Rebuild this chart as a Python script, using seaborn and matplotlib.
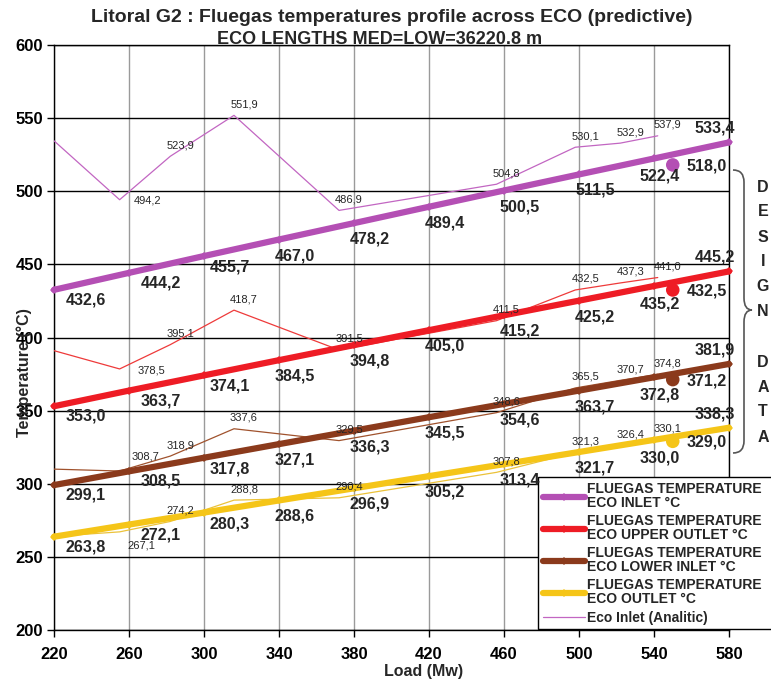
import matplotlib
matplotlib.use("Agg")
import matplotlib.pyplot as plt
import seaborn as sns
import pandas as pd
from matplotlib.path import Path
from matplotlib.patches import PathPatch

# ---- data ---------------------------------------------------------------
load = [220, 260, 300, 340, 380, 420, 460, 500, 540, 580]
eco_inlet = [432.6, 444.2, 455.7, 467.0, 478.2, 489.4, 500.5, 511.5, 522.4, 533.4]
eco_upper_outlet = [353.0, 363.7, 374.1, 384.5, 394.8, 405.0, 415.2, 425.2, 435.2, 445.2]
eco_lower_inlet = [299.1, 308.5, 317.8, 327.1, 336.3, 345.5, 354.6, 363.7, 372.8, 381.9]
eco_outlet = [263.8, 272.1, 280.3, 288.6, 296.9, 305.2, 313.4, 321.7, 330.0, 338.3]

analytic_load = [220, 255, 282, 316, 372, 456, 498, 522, 542]
analytic_inlet = [534.5, 494.2, 523.9, 551.9, 486.9, 504.8, 530.1, 532.9, 537.9]
analytic_upper_outlet = [391.0, 378.5, 395.1, 418.7, 391.5, 411.5, 432.5, 437.3, 441.0]
analytic_lower_inlet = [310.0, 308.7, 318.9, 337.6, 329.5, 348.6, 365.5, 370.7, 374.8]
analytic_outlet = [264.0, 267.1, 274.2, 288.8, 290.4, 307.8, 321.3, 326.4, 330.1]

design_load = [550, 550, 550, 550]
design_values = [518.0, 432.5, 371.2, 329.0]

series_names = [
    "FLUEGAS TEMPERATURE\nECO INLET °C",
    "FLUEGAS TEMPERATURE\nECO UPPER OUTLET °C",
    "FLUEGAS TEMPERATURE\nECO LOWER INLET °C",
    "FLUEGAS TEMPERATURE\nECO OUTLET °C",
]
analytic_name = "Eco Inlet (Analitic)"

title_line1 = "Litoral G2 : Fluegas temperatures profile across ECO (predictive)"
title_line2 = "ECO LENGTHS MED=LOW=36220.8 m"

# ---- style --------------------------------------------------------------
sns.set_style("white")
plt.rcParams["font.family"] = ["Liberation Sans", "DejaVu Sans"]

thick_colors = ["#B44FB4", "#EE1C25", "#8B3A1C", "#F5C518"]
thin_colors = ["#C266C2", "#EE3A3A", "#A0522D", "#EBC23A"]
# where the second analytic label sits relative to its point (pixels)
thin_second_offsets = [(14, -1), (18, -2), (12, 15), (8, -14)]

W, H = 771, 684
fig = plt.figure(figsize=(W / 100, H / 100), dpi=100)
ax = fig.add_axes([54 / W, 1 - 630 / H, 675 / W, 585 / H])


def fmt(v):
    return f"{v:.1f}".replace(".", ",")


thick_series = [eco_inlet, eco_upper_outlet, eco_lower_inlet, eco_outlet]
thin_series = [analytic_inlet, analytic_upper_outlet, analytic_lower_inlet, analytic_outlet]

# thin analytic profiles (only the inlet one appears in the legend)
for i, (vals, col) in enumerate(zip(thin_series, thin_colors)):
    df = pd.DataFrame({"Load": analytic_load, "Temperature": vals})
    sns.lineplot(data=df, x="Load", y="Temperature", ax=ax, color=col,
                 linewidth=0.9, sort=False,
                 label=analytic_name if i == 0 else "_nolegend_", zorder=3)
    for j, (x, y) in enumerate(zip(analytic_load, vals)):
        if j == 0:
            continue
        if j == 1:
            ax.annotate(fmt(y), (x, y), xytext=thin_second_offsets[i],
                        textcoords="offset pixels",
                        ha="left", va="center", fontsize=8, zorder=6)
        else:
            ax.annotate(fmt(y), (x, y), xytext=(10, 11), textcoords="offset pixels",
                        ha="center", va="center", fontsize=8, zorder=6)

# thick predictive profiles
for vals, col, name in zip(thick_series, thick_colors, series_names):
    df = pd.DataFrame({"Load": load, "Temperature": vals})
    sns.lineplot(data=df, x="Load", y="Temperature", ax=ax, color=col,
                 linewidth=4.5, marker="D", markersize=4.5, markeredgewidth=0,
                 label=name, zorder=4, clip_on=False)
    for j, (x, y) in enumerate(zip(load, vals)):
        if j <= 1:
            off, ha = (12, -10), "left"
        elif j == 2:
            off, ha = (6, -11), "left"
        elif j <= 7:
            off, ha = (16, -16), "center"
        elif j == 8:
            off, ha = (6, -18), "center"
        else:
            off, ha = (-14, 14), "center"
        ax.annotate(fmt(y), (x, y), xytext=off, textcoords="offset pixels",
                    ha=ha, va="center", fontsize=11.5, fontweight="bold", zorder=7)

# design points
design_df = pd.DataFrame({"Load": design_load, "Temperature": design_values})
sns.scatterplot(data=design_df, x="Load", y="Temperature", ax=ax,
                color=thick_colors[0], s=95, linewidth=0, zorder=5, legend=False)
ax.collections[-1].set_facecolor(thick_colors)
for x, y in zip(design_load, design_values):
    ax.annotate(fmt(y), (x, y), xytext=(14, -1), textcoords="offset pixels",
                ha="left", va="center", fontsize=11.5, fontweight="bold", zorder=7)

# axes, grid, ticks
ax.set_xlim(220, 580)
ax.set_ylim(200, 600)
ax.set_xticks(load)
ax.set_yticks(range(200, 601, 50))
ax.set_axisbelow(True)
ax.yaxis.grid(True, color="black", linewidth=1.0)
ax.xaxis.grid(True, color="#9a9a9a", linewidth=1.0)
for s in ax.spines.values():
    s.set_color("black")
    s.set_linewidth(1.0)
ax.tick_params(axis="y", direction="out", length=5, width=1, pad=3,
               labelsize=12, colors="black", left=True)
ax.tick_params(axis="x", direction="out", length=5, width=1, pad=7,
               labelsize=12, colors="black", bottom=True)
for lbl in ax.get_xticklabels() + ax.get_yticklabels():
    lbl.set_fontweight("bold")

ax.set_xlabel("Load (Mw)", fontsize=11.5, fontweight="bold")
ax.xaxis.set_label_coords(0.547, -0.058)
ax.set_ylabel("Temperature (°C)", fontsize=11.5, fontweight="bold")
ax.yaxis.set_label_coords(-0.033, 0.44)

# legend (its box runs past the right edge of the figure)
handles, labels = ax.get_legend_handles_labels()
order = [labels.index(n) for n in series_names] + [labels.index(analytic_name)]
leg = ax.legend([handles[k] for k in order], [labels[k] for k in order],
                loc="upper left",
                bbox_to_anchor=(538 / W, 1 - 628 / H, 260 / W, 151 / H),
                bbox_transform=fig.transFigure, borderaxespad=0, mode="expand",
                frameon=True, fancybox=False, framealpha=1, edgecolor="black",
                prop={"weight": "bold", "size": 10}, handlelength=3.0,
                handletextpad=0.2, labelspacing=0.3, borderpad=0.35)
leg.get_frame().set_linewidth(1.0)
for t in leg.get_texts():
    t.set_linespacing(1.0)

# title
fig.text(392 / W, 1 - 17 / H, title_line1, ha="center", va="center",
         fontsize=14, fontweight="bold")
fig.text(380 / W, 1 - 39 / H, title_line2, ha="center", va="center",
         fontsize=13, fontweight="bold")

# brace grouping the design points
def px(x, y):
    return (x / W, 1 - y / H)

verts = [px(733, 170), px(744, 170), px(744, 182), px(744, 298),
         px(744, 310), px(752, 310), px(744, 310), px(744, 322),
         px(744, 441), px(744, 453), px(733, 453)]
codes = [Path.MOVETO, Path.CURVE3, Path.CURVE3, Path.LINETO,
         Path.CURVE3, Path.CURVE3, Path.CURVE3, Path.CURVE3,
         Path.LINETO, Path.CURVE3, Path.CURVE3]
brace = PathPatch(Path(verts, codes), transform=fig.transFigure,
                  facecolor="none", edgecolor="#555555", linewidth=1.2)
fig.patches.append(brace)

letters = ["D", "E", "S", "I", "G", "N", "", "D", "A", "T", "A"]
for k, ch in enumerate(letters):
    if ch:
        fig.text(763 / W, 1 - (187 + 25 * k) / H, ch, ha="center", va="center",
                 fontsize=11.5, fontweight="bold")

fig.savefig("out.png", dpi=100)
